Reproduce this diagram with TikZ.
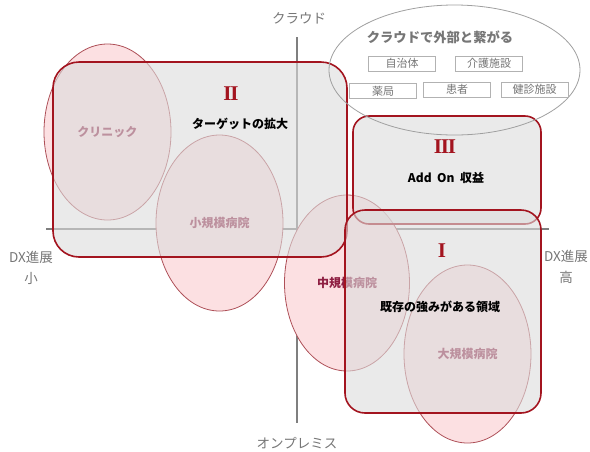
\documentclass[tikz,border=0pt]{standalone}
\usepackage{fontspec}
\setmainfont{Liberation Sans}
\newfontfamily\jp{Noto Sans CJK JP}
\newfontfamily\romanf{Liberation Serif}
\usetikzlibrary{shapes.geometric}
\definecolor{rectred}{HTML}{A3141F}
\definecolor{ellred}{HTML}{AE5058}
\definecolor{ellfill}{HTML}{FCE0E2}
\definecolor{lbltext}{HTML}{8E1F42}
\definecolor{axisgray}{HTML}{7F7F7F}
\definecolor{textgray}{HTML}{767676}
\definecolor{quadfill}{HTML}{DCDCDC}
\tikzset{
  axisline/.style={draw=axisgray, line width=1.6pt},
  seg/.style={ellipse, draw=ellred, line width=0.8pt, fill=ellfill, inner sep=0pt, outer sep=0pt,
    text=lbltext, font=\jp\bfseries\fontsize{12}{14}\selectfont},
  quad/.style={draw=rectred, line width=1.6pt, fill=quadfill, fill opacity=0.6, draw opacity=1,
    text opacity=1, inner sep=0pt, outer sep=0pt},
  numeral/.style={text=rectred, font=\romanf\bfseries\fontsize{21}{21}\selectfont, inner sep=0pt},
  maintext/.style={text=black, font=\jp\bfseries\fontsize{12}{14}\selectfont, inner sep=0pt},
  axislabel/.style={text=textgray, font=\jp\fontsize{13.5}{21}\selectfont, inner sep=0pt, align=center},
  cloud/.style={ellipse, draw=gray!75, line width=0.8pt, inner sep=0pt, outer sep=0pt},
  partner/.style={draw=gray!60, line width=0.8pt, fill=white, minimum width=67pt, minimum height=15pt,
    inner sep=0pt, text=textgray, font=\jp\fontsize{11}{12}\selectfont},
}
\begin{document}
\begin{tikzpicture}[x=1pt,y=-1pt]
\useasboundingbox (0,0) rectangle (590,451);
% axes
\coordinate (vtop) at (297,37);
\coordinate (vbot) at (297,423);
\coordinate (hleft) at (46,229);
\coordinate (hright) at (549,229);
\draw[axisline] (vtop) -- (vbot);
\draw[axisline] (hleft) -- (hright);
% segments (ellipses)
\node[seg, minimum width=127pt, minimum height=176pt] (clinic) at (107.5,132) {クリニック};
\node[seg, minimum width=127pt, minimum height=176pt] (small) at (219.5,223) {小規模病院};
\node[seg, minimum width=125pt, minimum height=176pt] (middle) at (347,283) {中規模病院};
\node[seg, minimum width=127pt, minimum height=178pt] (large) at (467.5,354) {大規模病院};
% quadrants
\node[quad, minimum width=294pt, minimum height=195pt, rounded corners=26pt] (q2) at (200,159.5) {};
\node[quad, minimum width=188pt, minimum height=108pt, rounded corners=16pt] (q3) at (447,170) {};
\node[quad, minimum width=196pt, minimum height=203pt, rounded corners=20pt] (q1) at (443,311.5) {};
% quadrant texts
\node[numeral] (n2) at (231,94) {I\kern-1.2ptI};
\node[maintext] (t2) at (240,124) {ターゲットの拡大};
\node[numeral] (n3) at (445,147) {I\kern-1.2ptI\kern-1.2ptI};
\node[maintext] (t3) at (446,178) {Add\ \ On\ \ 収益};
\node[numeral] (n1) at (442,251) {I};
\node[maintext] (t1) at (440,307) {既存の強みがある領域};
% cloud
\node[cloud, minimum width=251pt, minimum height=130pt] (cl) at (454.5,70) {};
\node[text=textgray, font=\jp\bfseries\fontsize{13.3}{15}\selectfont, inner sep=0pt] (clt) at (440,37) {クラウドで外部と繋がる};
\node[partner] (p1) at (402,63.5) {自治体};
\node[partner] (p2) at (489,63.5) {介護施設};
\node[partner] (p3) at (383,91) {薬局};
\node[partner] (p4) at (457,89.5) {患者};
\node[partner] (p5) at (534.5,89.5) {健診施設};
% axis labels
\node[axislabel] (lt) at (299,18) {クラウド};
\node[axislabel] (lb) at (297,443) {オンプレミス};
\node[axislabel] (ll) at (31,268) {DX進展\\小};
\node[axislabel] (lr) at (566,267) {DX進展\\高};
\end{tikzpicture}
\end{document}
